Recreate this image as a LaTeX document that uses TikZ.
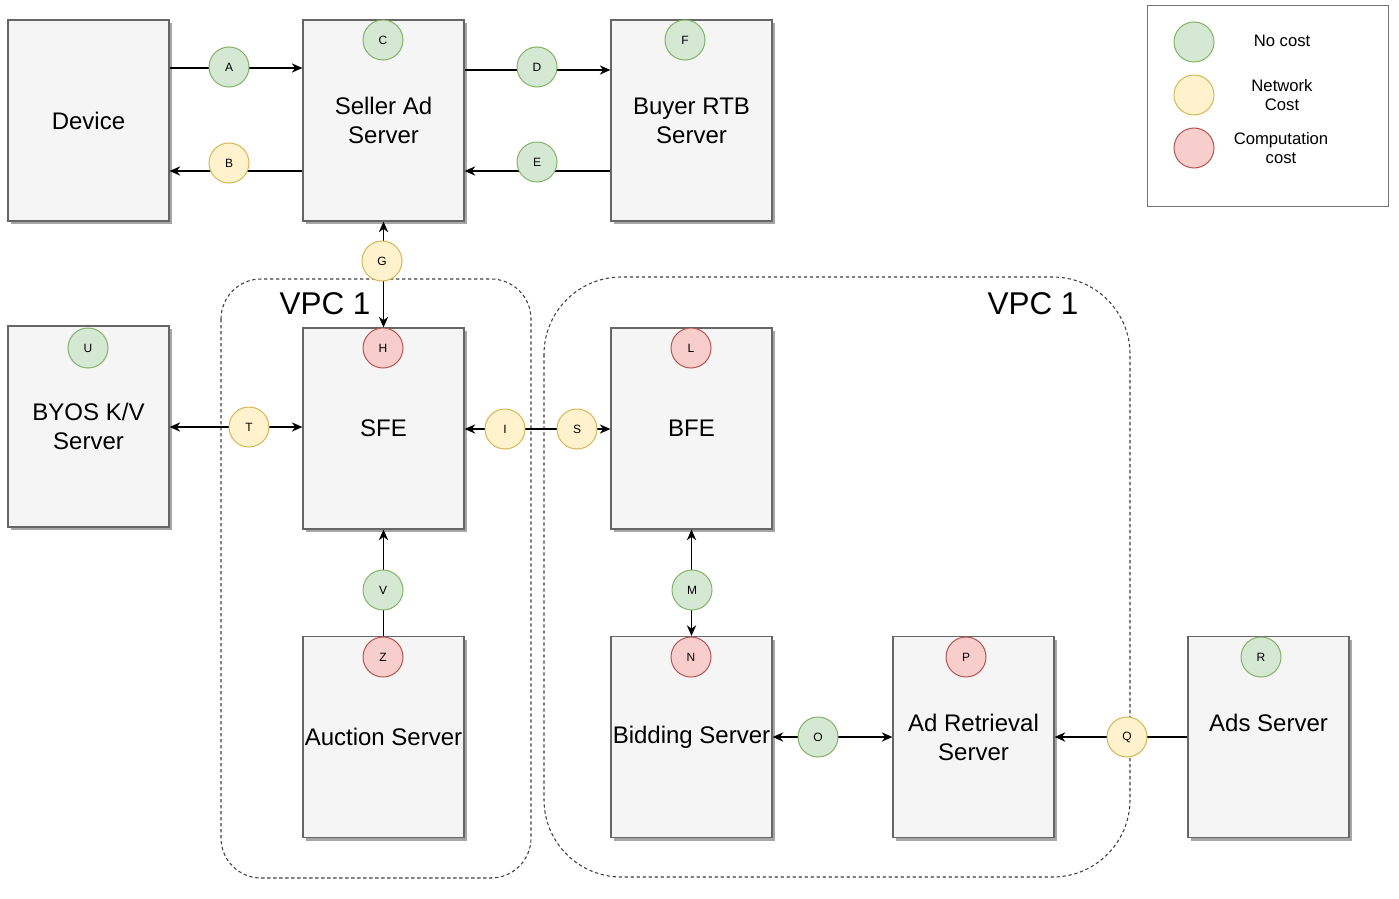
\documentclass[tikz,border=0pt]{standalone}
\usepackage{fontspec}
\setmainfont{Liberation Sans}
\usetikzlibrary{arrows.meta,shadows}
\definecolor{boxfill}{HTML}{F5F5F5}
\definecolor{boxline}{HTML}{666666}
\definecolor{gfill}{HTML}{D5E8D4}\definecolor{gline}{HTML}{82B366}
\definecolor{yfill}{HTML}{FFF2CC}\definecolor{yline}{HTML}{D6B656}
\definecolor{rfill}{HTML}{F8CECC}\definecolor{rline}{HTML}{B85450}
\begin{document}
\begin{tikzpicture}[x=0.75pt,y=-0.75pt,
 server/.style={draw=boxline, fill=boxfill, line width=0.9pt, minimum width=120.75pt, minimum height=150.75pt, inner sep=0pt, align=center, font=\fontsize{18}{21.75}\selectfont, drop shadow={shadow xshift=2.5pt, shadow yshift=-2.5pt, fill=black!35, opacity=1}},
 servertext/.style={align=center, inner sep=0pt, font=\fontsize{18}{21.75}\selectfont},
 tag/.style={circle, line width=0.75pt, minimum size=30pt, inner sep=0pt, font=\fontsize{9}{10}\selectfont},
 free/.style={tag, draw=gline, fill=gfill},
 net/.style={tag, draw=yline, fill=yfill},
 comp/.style={tag, draw=rline, fill=rfill},
 conn/.style={line width=1pt, draw=black},
 arr/.style={conn, -{Stealth[length=8pt,width=7pt]}},
 biarr/.style={conn, {Stealth[length=8pt,width=7pt]}-{Stealth[length=8pt,width=7pt]}},
 vpc/.style={draw=black!75, line width=0.8pt, dash pattern=on 2.5pt off 2pt},
 vpclabel/.style={font=\fontsize{23.6}{28}\selectfont, inner sep=0pt},
 legendtext/.style={align=center, font=\fontsize{12.5}{14.6}\selectfont, inner sep=0pt}
]
\useasboundingbox (0,0) rectangle (1399,899);

% VPC containers
\draw[vpc, rounded corners=30pt] (221,279) rectangle (531,878);
\draw[vpc, rounded corners=58pt] (544,277) rectangle (1130,877);
\node[vpclabel] (vpcl) at (325,304) {VPC 1};
\node[vpclabel] (vpcr) at (1033,304) {VPC 1};

% servers
\node[server] (dev) at (88.5,120.5) {Device};
\node[server] (sas) at (383.5,120.5) {Seller Ad\\Server};
\node[server] (rtb) at (691.5,120.5) {Buyer RTB\\Server};
\node[server] (byos) at (88.5,426.5) {BYOS K/V\\Server};
\node[server] (sfe) at (383.5,428.5) {SFE};
\node[server] (bfe) at (691.5,428.5) {BFE};
\node[server] (auc) at (383.5,737) {Auction Server};
\node[server] (bid) at (691.5,737) {Bidding Server};
\node[server] (adr) at (973.5,737) {Ad Retrieval\\Server};
\node[server] (ads) at (1268.5,737) {};
\node[servertext] (adstext) at (1268.5,723) {Ads Server};

% connector levels
\coordinate (yA) at (0,68);
\coordinate (yB) at (0,171);
\coordinate (yD) at (0,70);
\coordinate (yE) at (0,171);
\coordinate (yT) at (0,427);
\coordinate (yI) at (0,429);

% connectors
\draw[arr] (dev.east |- yA) -- (sas.west |- yA);
\draw[arr] (sas.west |- yB) -- (dev.east |- yB);
\draw[arr] (sas.east |- yD) -- (rtb.west |- yD);
\draw[arr] (rtb.west |- yE) -- (sas.east |- yE);
\draw[biarr] (sas.south) -- (sfe.north);
\draw[biarr] (byos.east |- yT) -- (sfe.west |- yT);
\draw[biarr] (sfe.east |- yI) -- (bfe.west |- yI);
\draw[arr] (auc.north) -- (sfe.south);
\draw[biarr] (bfe.south) -- (bid.north);
\draw[biarr] (bid.east) -- (adr.west);
\draw[arr] (ads.west) -- (adr.east);

% cost markers
\node[free] (A) at (229,67) {A};
\node[net]  (B) at (229,163) {B};
\node[free] (C) at (383,40) {C};
\node[free] (D) at (537,67) {D};
\node[free] (E) at (537,162) {E};
\node[free] (F) at (685,40) {F};
\node[net]  (G) at (382,261) {G};
\node[comp] (H) at (383,348) {H};
\node[free] (U) at (88,348) {U};
\node[net]  (T) at (249,427) {T};
\node[net]  (I) at (505,429) {I};
\node[net]  (S) at (577,429) {S};
\node[comp] (L) at (691,348) {L};
\node[free] (M) at (692,590) {M};
\node[comp] (N) at (691,657) {N};
\node[free] (V) at (383,590) {V};
\node[comp] (Z) at (383,657) {Z};
\node[comp] (P) at (966,657) {P};
\node[free] (R) at (1261,657) {R};
\node[free] (O) at (818,737) {O};
\node[net]  (Q) at (1127,737) {Q};

% legend
\draw[draw=black!55, line width=0.75pt] (1147,6) rectangle (1388,206);
\node[free] (lg1) at (1194,42) {};
\node[net]  (lg2) at (1194,95) {};
\node[comp] (lg3) at (1194,148) {};
\node[legendtext] (lt1) at (1282,41) {No cost};
\node[legendtext] (lt2) at (1282,95) {Network\\Cost};
\node[legendtext] (lt3) at (1281,148) {Computation\\cost};
\end{tikzpicture}
\end{document}
